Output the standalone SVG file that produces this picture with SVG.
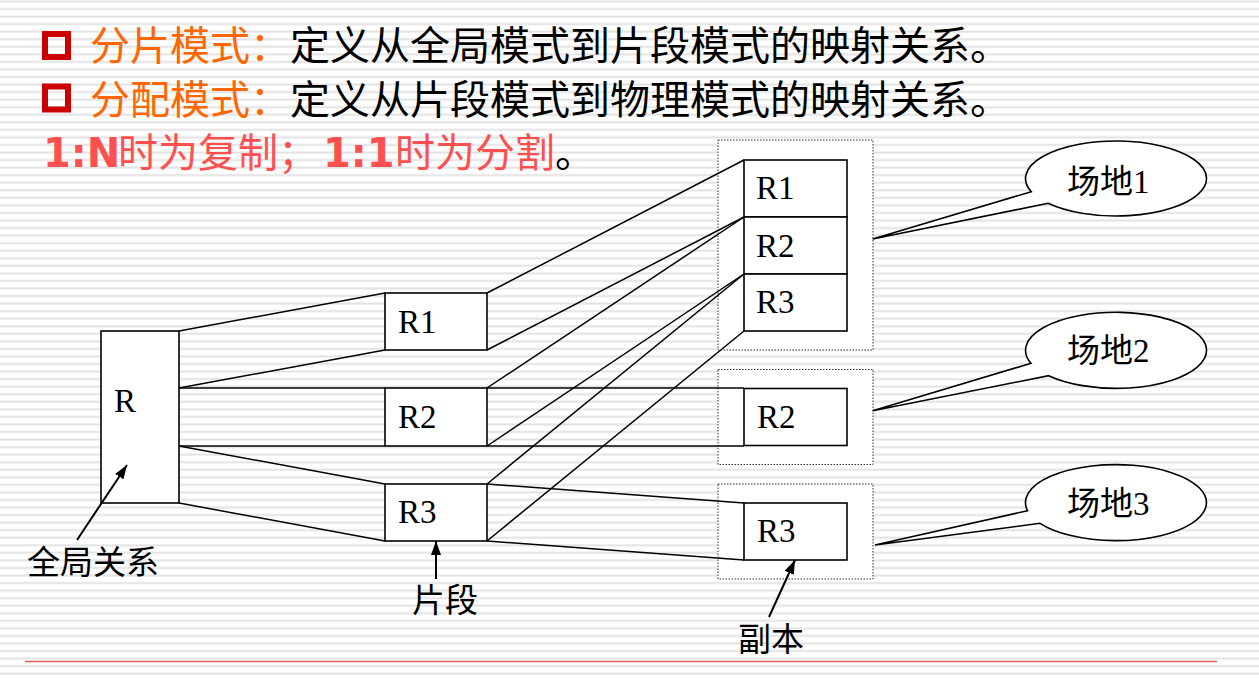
<svg xmlns="http://www.w3.org/2000/svg" width="1259" height="679" viewBox="0 0 1259 679">
<defs>
<pattern id="stripes" patternUnits="userSpaceOnUse" x="0" y="0" width="20" height="7.553">
<rect x="0" y="0.45" width="20" height="2" fill="#e2e2e2"/>
</pattern>
<marker id="arrL" viewBox="0 0 14 10" refX="14" refY="5" markerWidth="14" markerHeight="11" markerUnits="userSpaceOnUse" orient="auto">
<path d="M0,0 L14,5 L0,10 Z" fill="#000"/>
</marker>
</defs>
<style>
.box{fill:#fff;stroke:#000;stroke-width:1.6}
.site{fill:#fff;stroke:#333;stroke-width:1;stroke-dasharray:1.5 1.5}
.con{stroke:#000;stroke-width:1.5;fill:none}
.lbl{font-family:"Liberation Serif","Noto Sans CJK SC",serif;font-size:33px;fill:#000}
.hdr{font-family:"Noto Sans CJK SC","Noto Sans",sans-serif;font-size:40px;fill:#000}
.org{fill:#ff6600}
.pink{fill:#ff5050}
.bold{font-family:"DejaVu Sans","Noto Sans CJK SC",sans-serif;font-weight:bold}
.call{fill:#fff;stroke:#000;stroke-width:1.6}
.arrow{stroke:#000;stroke-width:2;fill:none}
</style>
<rect x="0" y="0" width="1259" height="679" fill="#fff"/>
<rect x="0" y="0" width="1259" height="679" fill="url(#stripes)"/>

<g id="header">
<rect x="45" y="34" width="23" height="23" fill="none" stroke="#cc0000" stroke-width="6"/>
<rect x="45" y="86.5" width="23" height="23" fill="none" stroke="#cc0000" stroke-width="6"/>
<text class="hdr" x="90" y="60"><tspan class="org">分片模式：</tspan>定义从全局模式到片段模式的映射关系。</text>
<text class="hdr" x="90" y="113.5"><tspan class="org">分配模式：</tspan>定义从片段模式到物理模式的映射关系。</text>
<text class="hdr" y="167"><tspan class="pink bold" x="43">1:N</tspan><tspan class="pink" x="118">时为复制；</tspan><tspan class="pink bold" x="323">1:1</tspan><tspan class="pink" x="395">时为分割</tspan><tspan x="555">。</tspan></text>
</g>

<g id="site1-frame"><rect class="site" x="718" y="140" width="155" height="210"/></g>
<g id="site2-frame"><rect class="site" x="718" y="369.5" width="155" height="95"/></g>
<g id="site3-frame"><rect class="site" x="718" y="484" width="155" height="95"/></g>

<g id="connectors">
<line class="con" x1="179" y1="331" x2="385" y2="293"/>
<line class="con" x1="179" y1="388" x2="385" y2="350"/>
<line class="con" x1="179" y1="388" x2="385" y2="388"/>
<line class="con" x1="179" y1="446" x2="385" y2="446"/>
<line class="con" x1="179" y1="446" x2="385" y2="484"/>
<line class="con" x1="179" y1="503" x2="385" y2="541"/>
<line class="con" x1="487" y1="293" x2="744" y2="160"/>
<line class="con" x1="487" y1="350" x2="744" y2="217"/>
<line class="con" x1="487" y1="388" x2="744" y2="217"/>
<line class="con" x1="487" y1="446" x2="744" y2="274"/>
<line class="con" x1="487" y1="388" x2="744" y2="388"/>
<line class="con" x1="487" y1="446" x2="744" y2="446"/>
<line class="con" x1="487" y1="484" x2="744" y2="274"/>
<line class="con" x1="487" y1="541" x2="744" y2="331"/>
<line class="con" x1="487" y1="484" x2="744" y2="503"/>
<line class="con" x1="487" y1="541" x2="744" y2="560"/>
</g>

<g id="node-R"><rect class="box" x="101" y="331" width="78" height="172"/><text class="lbl" x="114" y="412">R</text></g>
<g id="frag-R1"><rect class="box" x="385" y="293" width="102" height="57"/><text class="lbl" x="398" y="333">R1</text></g>
<g id="frag-R2"><rect class="box" x="385" y="388" width="102" height="58"/><text class="lbl" x="398" y="428">R2</text></g>
<g id="frag-R3"><rect class="box" x="385" y="484" width="102" height="57"/><text class="lbl" x="398" y="523">R3</text></g>

<g id="site1-R1"><rect class="box" x="744" y="160" width="103" height="57"/><text class="lbl" x="756" y="199">R1</text></g>
<g id="site1-R2"><rect class="box" x="744" y="217" width="103" height="57"/><text class="lbl" x="756" y="257">R2</text></g>
<g id="site1-R3"><rect class="box" x="744" y="274" width="103" height="57"/><text class="lbl" x="756" y="313">R3</text></g>
<g id="site2-R2"><rect class="box" x="744" y="388.5" width="103" height="57"/><text class="lbl" x="757" y="428">R2</text></g>
<g id="site3-R3"><rect class="box" x="744" y="503" width="103" height="57"/><text class="lbl" x="757" y="542">R3</text></g>

<g id="callout-1"><path class="call" d="M1031.3,191.7 L872.7,239 L1048.1,203.3 A90.5,37.5 0 1 0 1031.3,191.7 Z"/><text class="lbl" x="1067" y="193">场地1</text></g>
<g id="callout-2"><path class="call" d="M1031,363.3 L872.7,410.7 L1048.7,375.7 A90.5,38 0 1 0 1031,363.3 Z"/><text class="lbl" x="1067" y="362">场地2</text></g>
<g id="callout-3"><path class="call" d="M1027.5,510.7 L875,545 L1040,523.3 A90.5,38 0 1 0 1027.5,510.7 Z"/><text class="lbl" x="1067" y="515">场地3</text></g>

<g id="pointers">
<line class="arrow" x1="77" y1="540" x2="127" y2="465" marker-end="url(#arrL)"/>
<line class="arrow" x1="436" y1="579" x2="436" y2="541" marker-end="url(#arrL)"/>
<line class="arrow" x1="769" y1="617" x2="795" y2="560" marker-end="url(#arrL)"/>
</g>

<g id="labels">
<text class="lbl" x="27" y="574">全局关系</text>
<text class="lbl" x="412" y="612">片段</text>
<text class="lbl" x="738" y="651">副本</text>
</g>

<line x1="25" y1="661.5" x2="1217" y2="661.5" stroke="#e05a5a" stroke-width="1.5"/>
</svg>
